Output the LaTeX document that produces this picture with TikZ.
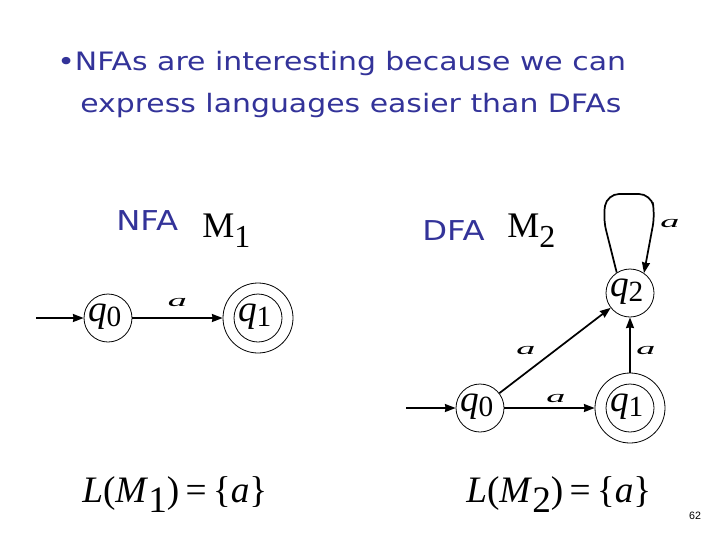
\documentclass[tikz,border=0pt]{standalone}
\usepackage{fontspec}
\setmainfont{Liberation Serif}
\newfontfamily\ttl[FakeStretch=1.18]{DejaVu Sans}
\newfontfamily\pgnum{Liberation Sans}
\usetikzlibrary{arrows.meta}
\definecolor{slideblue}{RGB}{51,51,153}
\newcommand\stl[2]{\hspace*{-5pt}\raisebox{-5pt}{\smash{\makebox[0pt]{\fontsize{28}{28}\selectfont\itshape #1\upshape\raisebox{-4pt}{\fontsize{22}{22}\selectfont #2}}}}}
\newcommand\mname[1]{M\raisebox{-7.5pt}{\fontsize{24}{24}\selectfont #1}}
\newcommand\lang[1]{{\itshape L}(\textit{M}\raisebox{-7.5pt}{#1})\,=\,\{\textit{a}\}}
\begin{document}
\begin{tikzpicture}[x=0.75pt,y=-0.75pt,
  state/.style={circle,draw,line width=0.6pt,minimum size=36pt,inner sep=0pt},
  accout/.style={circle,draw,line width=0.6pt,minimum size=52.5pt,inner sep=0pt},
  edge/.style={line width=1.3pt,-{Stealth[length=8pt,width=6pt,inset=0.5pt]}},
  lbl/.style={inner sep=0pt,font=\fontsize{13}{13}\selectfont\itshape},
  ttxt/.style={inner sep=0pt,anchor=base west,text=slideblue,font=\ttl\fontsize{19}{22}\selectfont},
  htxt/.style={ttxt,font=\ttl\fontsize{20.5}{22}\selectfont},
  mtxt/.style={inner sep=0pt,anchor=base west,font=\fontsize{27}{27}\selectfont},
  ltxt/.style={inner sep=0pt,anchor=base west,font=\fontsize{28}{28}\selectfont}]
\useasboundingbox (0,0) rectangle (720,540);
% title
\node[ttxt] (t1) at (57,70) {•NFAs are interesting because we can};
\node[ttxt] (t2) at (80,112) {express languages easier than DFAs};
% headings
\node[htxt] (nfa) at (116,230) {NFA};
\node[mtxt] (m1) at (202,237) {\mname{1}};
\node[htxt] (dfa) at (422,240) {DFA};
\node[mtxt] (m2) at (507,237) {\mname{2}};
% NFA M1
\node[state] (a0) at (108,318) {\stl{q}{0}};
\node[accout] (a1) at (258,318) {};
\node[state] (a1in) at (258,318) {\stl{q}{1}};
\coordinate (ainit) at (36,318);
\draw[edge] (ainit) -- (a0);
\draw[edge] (a0) -- node[lbl,above=8pt] (la) {\scalebox{2.2}[1]{a}} (a1);
% DFA M2
\node[state] (b0) at (480,408) {\stl{q}{0}};
\node[accout] (b1) at (630,408) {};
\node[state] (b1in) at (630,408) {\stl{q}{1}};
\node[state] (b2) at (630,293) {\stl{q}{2}};
\coordinate (binit) at (406,408);
\draw[edge] (binit) -- (b0);
\draw[edge] (b0) -- (b1);
\draw[edge] (b0) -- (b2);
\draw[edge] (b1) -- (b2);
\draw[edge,rounded corners=9pt] (b2.123) -- (603,218) -- (607,194) -- (651,194) -- (655,214) -- (b2.55);
\node[lbl] (lb01) at (556,398) {\scalebox{2.2}[1]{a}};
\node[lbl] (lb02) at (526,350) {\scalebox{2.2}[1]{a}};
\node[lbl] (lb12) at (646,350) {\scalebox{2.2}[1]{a}};
\node[lbl] (lb22) at (670,224) {\scalebox{2.2}[1]{a}};
% languages
\node[ltxt] (l1) at (82,502) {\lang{1}};
\node[ltxt] (l2) at (466,502) {\lang{2}};
\node[inner sep=0pt,font=\pgnum\fontsize{8}{8}\selectfont] (pg) at (695,516) {62};
\end{tikzpicture}
\end{document}
